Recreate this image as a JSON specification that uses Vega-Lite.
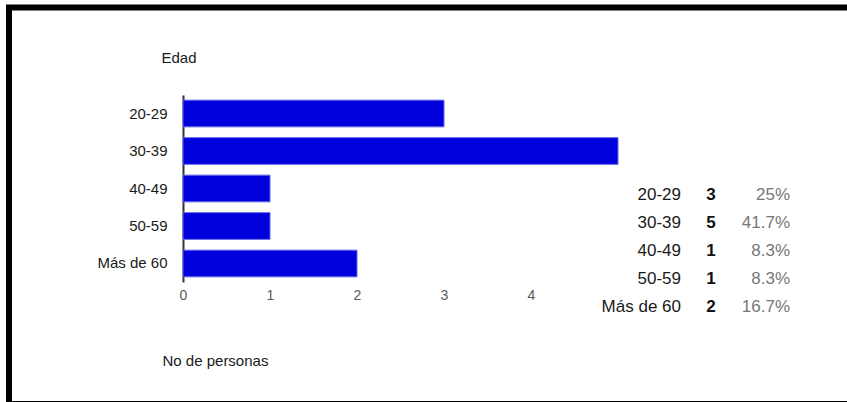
{
  "$schema": "https://vega.github.io/schema/vega-lite/v6.json",
  "autosize": {"type": "none"},
  "padding": {"left": 9, "top": 7.5, "right": 0, "bottom": 0},
  "width": 848,
  "height": 396.5,
  "background": "white",
  "config": {
    "view": {"stroke": "black", "strokeWidth": 6},
    "font": "Liberation Sans"
  },
  "data": {
    "values": [
      {"edad": "20-29", "n": 3, "pct": "25%"},
      {"edad": "30-39", "n": 5, "pct": "41.7%"},
      {"edad": "40-49", "n": 1, "pct": "8.3%"},
      {"edad": "50-59", "n": 1, "pct": "8.3%"},
      {"edad": "Más de 60", "n": 2, "pct": "16.7%"}
    ]
  },
  "layer": [
    {
      "mark": {"type": "bar", "fill": "#0000DC", "stroke": "#6464E8", "strokeWidth": 1},
      "encoding": {
        "y": {
          "field": "edad", "type": "nominal", "sort": null,
          "scale": {"range": [87.5, 274.5], "paddingInner": 0.288, "paddingOuter": 0.1375},
          "axis": {
            "offset": -174, "domainColor": "#333333", "domainWidth": 2,
            "ticks": false, "tickSize": 0, "labelPadding": 16, "labelFontSize": 15,
            "labelColor": "#1a1a1a", "grid": false,
            "title": "Edad", "titleAngle": 0, "titleX": -22, "titleY": 54.5,
            "titleAlign": "left", "titleBaseline": "alphabetic", "titleFontSize": 15,
            "titleFontWeight": "normal", "titleColor": "#1a1a1a"
          }
        },
        "x": {
          "field": "n", "type": "quantitative",
          "scale": {"domain": [0, 5], "range": [174, 609], "nice": false},
          "axis": {
            "values": [0, 1, 2, 3, 4], "format": "d", "domain": false, "ticks": false, "tickSize": 0, "grid": false,
            "labelFlush": false, "labelOverlap": false,
            "labelColor": "#5a5a5a", "labelFontSize": 14, "labelPadding": 5, "offset": -121,
            "title": "No de personas", "titleX": 153, "titleY": 82, "titleAlign": "left",
            "titleBaseline": "alphabetic", "titleFontWeight": "normal", "titleFontSize": 15,
            "titleColor": "#1a1a1a"
          }
        }
      }
    },
    {
      "mark": {"type": "text", "align": "right", "baseline": "middle", "fontSize": 17, "fill": "#1a1a1a"},
      "encoding": {
        "y": {"field": "edad", "type": "ordinal", "sort": null, "scale": {"type": "point", "range": [187, 299], "padding": 0}, "axis": null},
        "x": {"datum": 5.724, "type": "quantitative"},
        "text": {"field": "edad"}
      }
    },
    {
      "mark": {"type": "text", "align": "center", "baseline": "middle", "fontSize": 17, "fontWeight": "bold", "fill": "#111111"},
      "encoding": {
        "y": {"field": "edad", "type": "ordinal", "sort": null, "scale": {"type": "point", "range": [187, 299], "padding": 0}, "axis": null},
        "x": {"datum": 6.07, "type": "quantitative"},
        "text": {"field": "n"}
      }
    },
    {
      "mark": {"type": "text", "align": "right", "baseline": "middle", "fontSize": 17, "fill": "#777777"},
      "encoding": {
        "y": {"field": "edad", "type": "ordinal", "sort": null, "scale": {"type": "point", "range": [187, 299], "padding": 0}, "axis": null},
        "x": {"datum": 6.977, "type": "quantitative"},
        "text": {"field": "pct"}
      }
    }
  ],
  "resolve": {"scale": {"y": "independent"}}
}
